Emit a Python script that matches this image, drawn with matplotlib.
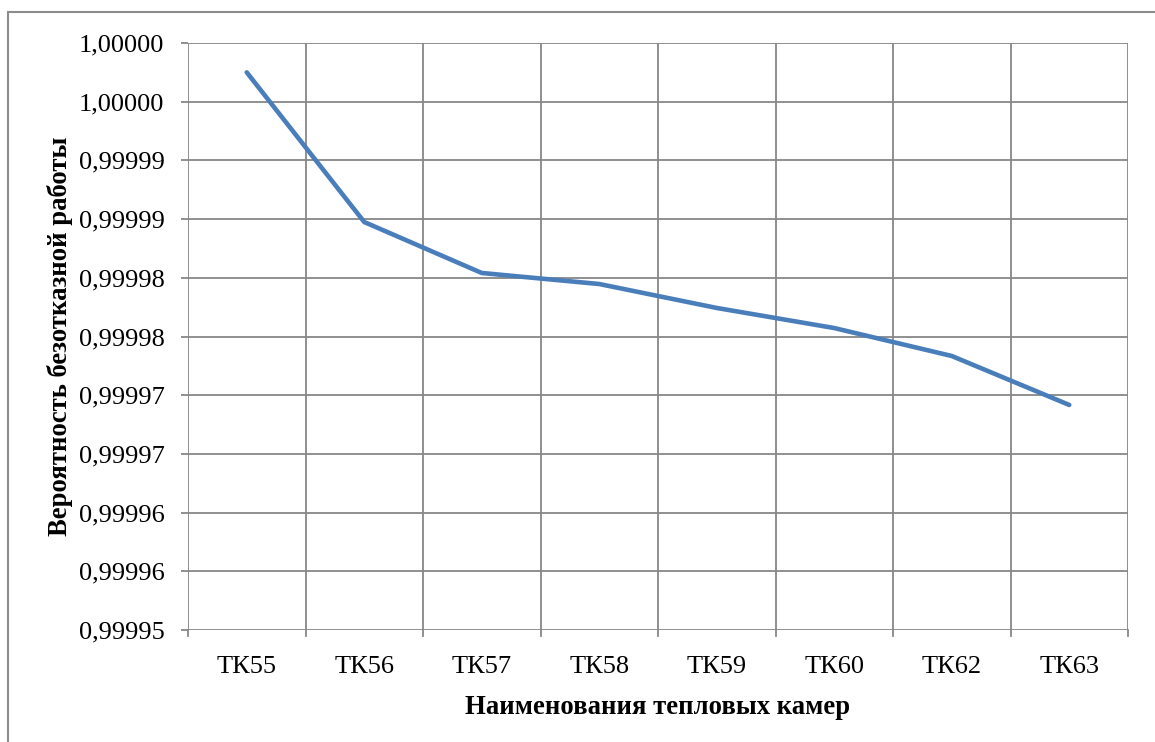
import matplotlib
matplotlib.use("Agg")
import matplotlib.pyplot as plt
from matplotlib.patches import Rectangle

categories = ["ТК55", "ТК56", "ТК57", "ТК58", "ТК59", "ТК60", "ТК62", "ТК63"]
probability = [0.9999975, 0.99998475, 0.99998041, 0.99997947, 0.99997743,
               0.99997572, 0.99997334, 0.99996917]
ytick_values = [0.99995, 0.999955, 0.99996, 0.999965, 0.99997, 0.999975,
                0.99998, 0.999985, 0.99999, 0.999995, 1.0]
ytick_labels = ["0,99995", "0,99996", "0,99996", "0,99997", "0,99997", "0,99998",
                "0,99998", "0,99999", "0,99999", "1,00000", "1,00000"]
xlabel = "Наименования тепловых камер"
ylabel = "Вероятность безотказной работы"

plt.rcParams['font.family'] = ['Liberation Serif', 'DejaVu Serif']

W, H = 1155, 742
fig = plt.figure(figsize=(W / 100, H / 100), dpi=100)
ax = fig.add_axes([188 / W, 1 - 630 / H, (1128 - 188) / W, (630 - 43) / H])

grid_c = "#878787"
x = list(range(len(categories)))
ax.plot(x, probability, color="#4A7EBB", lw=3.3, solid_capstyle="round",
        solid_joinstyle="round", zorder=3)

ax.set_xlim(-0.5, len(categories) - 0.5)
ax.set_ylim(ytick_values[0], ytick_values[-1])
ax.set_yticks(ytick_values)
ax.set_yticklabels(ytick_labels)
ax.set_xticks(x)
ax.set_xticklabels(categories)
ax.tick_params(axis="x", length=0, pad=19, labelsize=19)
ax.tick_params(axis="y", length=5, width=1.3, color=grid_c, pad=12, labelsize=19)

# category boundary gridlines and ticks
for b in [i - 0.5 for i in range(len(categories) + 1)]:
    ax.axvline(b, color=grid_c, lw=1.3, zorder=1)
    ax.plot([b, b], [0, -6 / 587], transform=ax.get_xaxis_transform(),
            color=grid_c, lw=1.3, clip_on=False)
for v in ytick_values:
    ax.axhline(v, color=grid_c, lw=1.3, zorder=1)

for s in ax.spines.values():
    s.set_visible(False)

ax.set_xlabel(xlabel, fontsize=19.2, fontweight="bold", labelpad=12)
ax.set_ylabel(ylabel, fontsize=19.2, fontweight="bold", labelpad=4)

fig.patches.append(Rectangle((8 / W, -0.05), 1.2, 1 - 12 / H + 0.05,
                             transform=fig.transFigure, fill=False,
                             edgecolor="#8c8c8c", lw=1.5))

fig.savefig("out.png", dpi=100)
